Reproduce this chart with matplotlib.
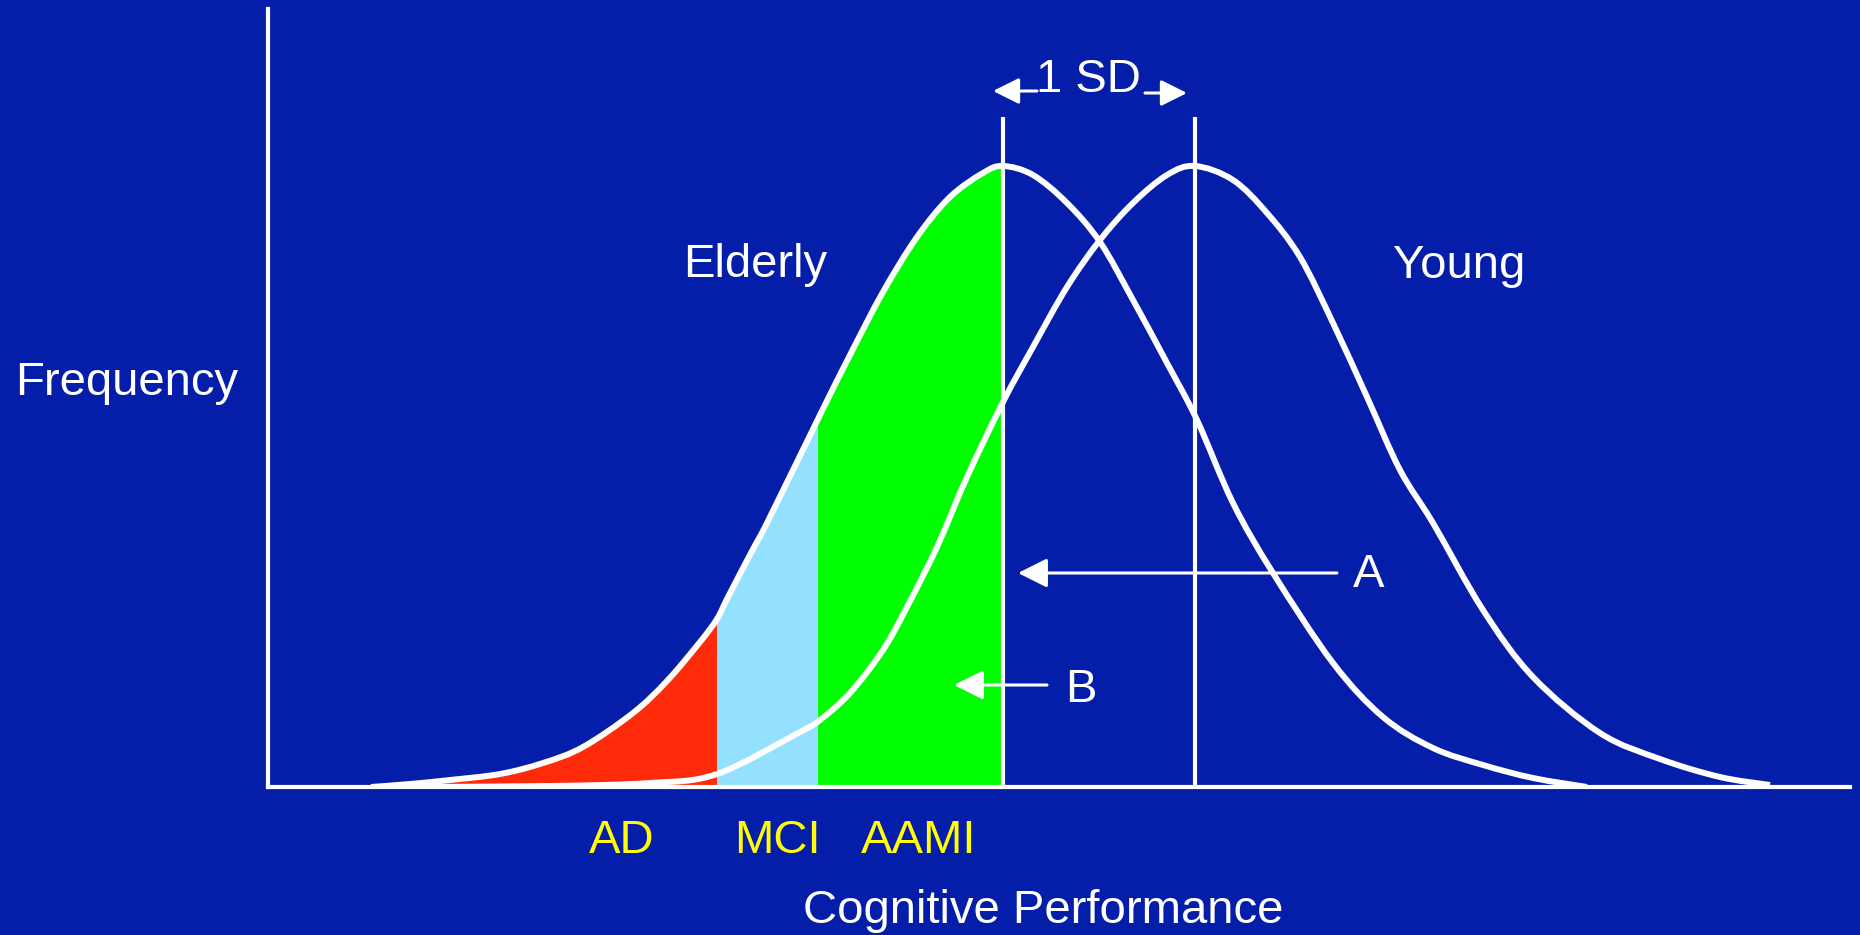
import numpy as np
import matplotlib
matplotlib.use("Agg")
import matplotlib.pyplot as plt
from matplotlib.path import Path
from matplotlib.patches import PathPatch, Rectangle

# score (arbitrary units) vs frequency (arbitrary units)
elderly_x = [371, 410, 450, 500, 543, 583, 633, 667, 700, 717, 728, 752, 768, 818,
             850, 883, 917, 950, 983, 1003, 1033, 1067, 1100, 1133, 1167, 1197,
             1233, 1273, 1333, 1383, 1433, 1483, 1533, 1587]
elderly_y = [0, 3, 7, 13, 24, 40, 74, 106, 145, 168, 190, 236, 266, 368,
             432, 495, 550, 590, 614, 621, 612, 584, 545, 487, 424, 367,
             284, 214, 124, 70, 39, 22, 9, 0]

young_x = [412, 550, 650, 717, 800, 820, 850, 883, 907, 937, 967, 1003, 1033, 1067,
           1100, 1133, 1167, 1195, 1233, 1267, 1300, 1333, 1367, 1400, 1433, 1483,
           1533, 1600, 1660, 1720, 1770]
young_y = [0, 1, 4, 13, 55, 67, 94, 137, 180, 240, 310, 385, 440, 500,
           547, 584, 612, 621, 607, 574, 530, 464, 390, 317, 264, 177,
           110, 54, 28, 10, 2]

# impairment bands on the elderly curve
bands = ["AD", "MCI", "AAMI"]
band_edges = [371, 717, 818, 1003]
band_colors = ["#FF2A0A", "#94E1FF", "#00FF00"]

BG = "#041EAA"
FONT = "Liberation Sans"


def smooth_path(xs, ys, close=False):
    # Catmull-Rom through the read points, drawn as cubic bezier segments
    p = np.column_stack([xs, ys]).astype(float)
    verts = [p[0]]
    codes = [Path.MOVETO]
    n = len(p)
    for i in range(n - 1):
        p0 = p[max(i - 1, 0)]
        p1, p2 = p[i], p[i + 1]
        p3 = p[min(i + 2, n - 1)]
        verts += [p1 + (p2 - p0) / 6, p2 - (p3 - p1) / 6, p2]
        codes += [Path.CURVE4] * 3
    if close:
        verts += [p[0], p[0]]
        codes += [Path.LINETO, Path.CLOSEPOLY]
    return Path(verts, codes)


fig = plt.figure(figsize=(18.6, 9.35), dpi=100, facecolor=BG)
ax = fig.add_axes([268 / 1860, 148 / 935, (1850 - 268) / 1860, 778 / 935])
ax.set_facecolor(BG)
ax.set_xlim(268, 1850)
ax.set_ylim(0, 778)

area = smooth_path(elderly_x, elderly_y, close=True)
for lo, hi, c in zip(band_edges[:-1], band_edges[1:], band_colors):
    patch = PathPatch(area, facecolor=c, edgecolor="none", lw=0, zorder=1)
    ax.add_patch(patch)
    clip = Rectangle((lo, 0), hi - lo, 700, transform=ax.transData)
    patch.set_clip_path(clip)

for xs, ys in [(elderly_x, elderly_y), (young_x, young_y)]:
    ax.add_patch(PathPatch(smooth_path(xs, ys), facecolor="none",
                           edgecolor="white", lw=4.3, zorder=3, capstyle="butt"))

m_old = elderly_x[int(np.argmax(elderly_y))]
m_young = young_x[int(np.argmax(young_y))]
ax.vlines([m_old, m_young], 0, 670, color="white", lw=3, zorder=4)

for s in ["top", "right"]:
    ax.spines[s].set_visible(False)
for s in ["left", "bottom"]:
    ax.spines[s].set_color("white")
    ax.spines[s].set_linewidth(3)
ax.set_xticks([])
ax.set_yticks([])

txt = dict(color="white", fontsize=34, family=FONT, va="baseline", ha="left")
ax.text(15, 392, "Frequency", clip_on=False, **txt)
ax.text(683, 510, "Elderly", **txt)
ax.text(1393, 509, "Young", **txt)
ax.text(1036, 695, "1 SD", **txt)
ax.text(1353, 200, "A", **txt)
ax.text(1065, 85, "B", **txt)
ax.text(803, -136, "Cognitive Performance", clip_on=False, **txt)

ytxt = dict(txt, color="#FFFF00")
ax.text(589, -66, "AD", **ytxt)
ax.text(734, -66, "MCI", **ytxt)
ax.text(861, -66, "AAMI", **ytxt)


def arrow(x0, y0, x1, y1, ms=45):
    ax.annotate("", xy=(x1, y1), xytext=(x0, y0),
                arrowprops=dict(arrowstyle="-|>", color="white", lw=2.2,
                                mutation_scale=ms, shrinkA=0, shrinkB=0),
                zorder=5, annotation_clip=False)


arrow(1037, 696, 993, 696, ms=40)
arrow(1145, 694, 1187, 694, ms=40)
arrow(1337, 214, 1018, 214)
arrow(1047, 102, 954, 102)

fig.savefig("out.png", dpi=100, facecolor=BG)
